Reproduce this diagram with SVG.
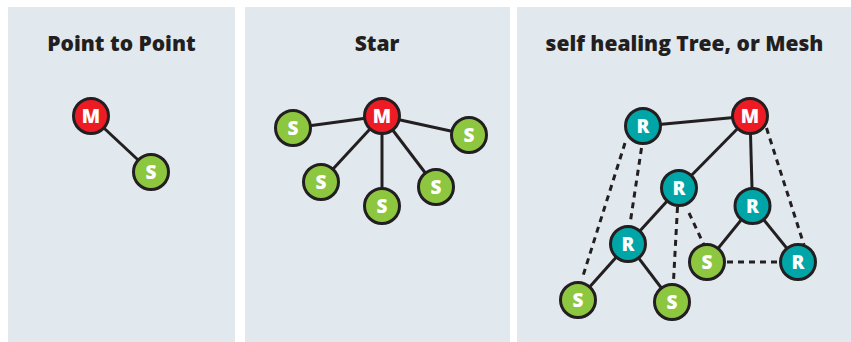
<svg xmlns="http://www.w3.org/2000/svg" width="851" height="342" viewBox="0 0 851 342">
<style>
.panel{fill:#e1e9ef}
.title{font-family:"Open Sans","Liberation Sans",sans-serif;font-weight:800;font-size:21px;fill:#231f20;text-anchor:middle}
.n circle{stroke:#231f20;stroke-width:3}
.m circle{fill:#ed1c24}
.s circle{fill:#8dc63f}
.r circle{fill:#00a5a8}
.n text{font-family:"Open Sans","Liberation Sans",sans-serif;font-weight:800;font-size:19px;fill:#ffffff;text-anchor:middle}
.c line{stroke:#231f20;stroke-width:3}
.c line.d{stroke-dasharray:6 5}
</style>
<rect x="0" y="0" width="851" height="342" fill="#ffffff"/>
<rect class="panel" x="8" y="7" width="227" height="335"/>
<rect class="panel" x="245" y="7" width="265" height="335"/>
<rect class="panel" x="517" y="7" width="334" height="335"/>
<text class="title" x="121.5" y="51">Point to Point</text>
<text class="title" x="377" y="51">Star</text>
<text class="title" x="684.5" y="51">self healing Tree, or Mesh</text>
<g id="connectors" class="c">
<line x1="91" y1="116" x2="151" y2="172"/>
<line x1="382" y1="116" x2="293" y2="128"/>
<line x1="382" y1="116" x2="469" y2="135"/>
<line x1="382" y1="116" x2="321" y2="182"/>
<line x1="382" y1="116" x2="382" y2="206"/>
<line x1="382" y1="116" x2="436" y2="187"/>
<line x1="643" y1="126" x2="750" y2="116"/>
<line x1="750" y1="116" x2="679" y2="188"/>
<line x1="750" y1="116" x2="752.5" y2="206"/>
<line x1="679" y1="188" x2="628" y2="244"/>
<line x1="628" y1="244" x2="578" y2="300"/>
<line x1="628" y1="244" x2="672" y2="302"/>
<line x1="752.5" y1="206" x2="707" y2="262"/>
<line x1="752.5" y1="206" x2="798" y2="262"/>
<line class="d" x1="625" y1="143" x2="582" y2="279"/>
<line class="d" x1="641.5" y1="148" x2="630" y2="224"/>
<line class="d" x1="677.5" y1="207" x2="673.5" y2="281"/>
<line class="d" x1="689" y1="213" x2="704" y2="245"/>
<line class="d" x1="766.5" y1="128" x2="804" y2="245"/>
<line class="d" x1="727" y1="262" x2="779" y2="262"/>
</g>
<g id="p2p-M" class="n m"><circle cx="91" cy="116" r="17.5"/><text x="91" y="123">M</text></g>
<g id="p2p-S" class="n s"><circle cx="151" cy="172" r="17.5"/><text x="151" y="179">S</text></g>
<g id="star-M" class="n m"><circle cx="382" cy="116" r="17.5"/><text x="382" y="123">M</text></g>
<g id="star-S1" class="n s"><circle cx="293" cy="128" r="17.5"/><text x="293" y="135">S</text></g>
<g id="star-S2" class="n s"><circle cx="469" cy="135" r="17.5"/><text x="469" y="142">S</text></g>
<g id="star-S3" class="n s"><circle cx="321" cy="182" r="17.5"/><text x="321" y="189">S</text></g>
<g id="star-S4" class="n s"><circle cx="382" cy="206" r="17.5"/><text x="382" y="213">S</text></g>
<g id="star-S5" class="n s"><circle cx="436" cy="187" r="17.5"/><text x="436" y="194">S</text></g>
<g id="mesh-M" class="n m"><circle cx="750" cy="116" r="17.5"/><text x="750" y="123">M</text></g>
<g id="mesh-R1" class="n r"><circle cx="643" cy="126" r="17.5"/><text x="643" y="133">R</text></g>
<g id="mesh-R2" class="n r"><circle cx="679" cy="188" r="17.5"/><text x="679" y="195">R</text></g>
<g id="mesh-R3" class="n r"><circle cx="752.5" cy="206" r="17.5"/><text x="752.5" y="213">R</text></g>
<g id="mesh-R4" class="n r"><circle cx="628" cy="244" r="17.5"/><text x="628" y="251">R</text></g>
<g id="mesh-R5" class="n r"><circle cx="798" cy="262" r="17.5"/><text x="798" y="269">R</text></g>
<g id="mesh-S1" class="n s"><circle cx="707" cy="262" r="17.5"/><text x="707" y="269">S</text></g>
<g id="mesh-S2" class="n s"><circle cx="578" cy="300" r="17.5"/><text x="578" y="307">S</text></g>
<g id="mesh-S3" class="n s"><circle cx="672" cy="302" r="17.5"/><text x="672" y="309">S</text></g>
</svg>
